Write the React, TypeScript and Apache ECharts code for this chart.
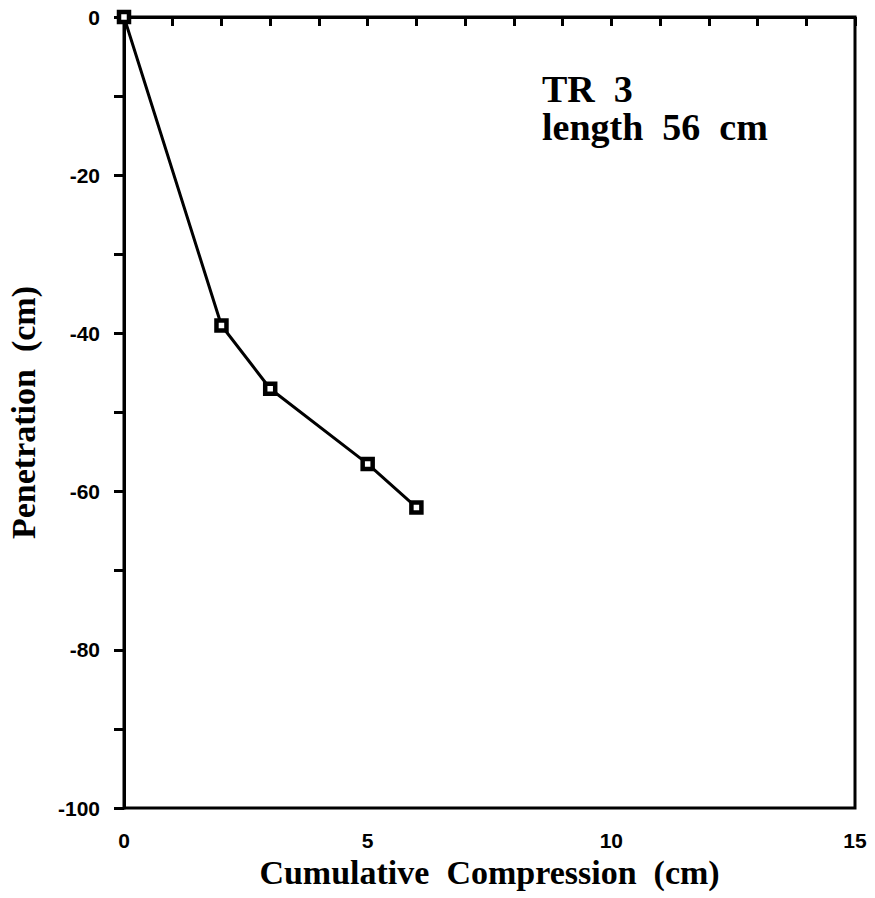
import React, { useEffect, useRef } from "react";
import * as echarts from "echarts";

const compression = [0, 2, 3, 5, 6];
const penetration = [0, -39, -47, -56.5, -62];
const annotationLines = ["TR  3", "length  56  cm"];
const xTitle = "Cumulative  Compression  (cm)";
const yTitle = "Penetration  (cm)";

export default function App() {
  const ref = useRef<HTMLDivElement>(null);
  useEffect(() => {
    if (!ref.current) return;
    const chart = echarts.init(ref.current, null, { renderer: "svg" });
    const titleFont = {
      fontFamily: "Liberation Serif",
      fontWeight: "bold",
      fontSize: 34,
      color: "#000",
    };
    const tickFont = {
      fontFamily: "Liberation Sans",
      fontWeight: "bold",
      fontSize: 21,
      color: "#000",
    };
    chart.setOption({
      animation: false,
      backgroundColor: "#fff",
      grid: {
        left: 124,
        top: 17,
        right: 20,
        bottom: 90,
        show: true,
        borderColor: "#000",
        borderWidth: 3,
        containLabel: false,
        outerBoundsMode: "none",
      },
      xAxis: {
        type: "value",
        min: 0,
        max: 15,
        interval: 1,
        name: xTitle,
        nameLocation: "middle",
        nameGap: 44,
        nameTextStyle: titleFont,
        axisLine: { show: true, lineStyle: { color: "#000", width: 3 } },
        axisTick: { show: true, inside: false, length: 9, lineStyle: { color: "#000", width: 3 } },
        axisLabel: {
          show: true,
          ...tickFont,
          margin: 22,
          formatter: (v: number) => (v % 5 === 0 ? String(v) : ""),
        },
        splitLine: { show: false },
      },
      yAxis: {
        type: "value",
        min: -100,
        max: 0,
        interval: 10,
        name: yTitle,
        nameLocation: "middle",
        nameGap: 84,
        nameRotate: 90,
        nameTextStyle: titleFont,
        axisLine: { show: true, lineStyle: { color: "#000", width: 3 } },
        axisTick: { show: true, inside: false, length: 10, lineStyle: { color: "#000", width: 3 } },
        axisLabel: {
          show: true,
          ...tickFont,
          margin: 24,
          formatter: (v: number) => (v % 20 === 0 ? String(v) : ""),
        },
        splitLine: { show: false },
      },
      series: [
        {
          type: "line",
          data: compression.map((x, i) => [x, penetration[i]]),
          lineStyle: { color: "#000", width: 3 },
          symbol: "rect",
          symbolSize: 10,
          itemStyle: { color: "#fff", borderColor: "#000", borderWidth: 4.5 },
          z: 5,
        },
      ],
      graphic: [
        {
          type: "text",
          left: 542,
          top: 70,
          style: {
            text: annotationLines.join("\n"),
            font: "bold 38px 'Liberation Serif'",
            fill: "#000",
            lineHeight: 38,
          },
        },
      ],
    });
    return () => chart.dispose();
  }, []);
  return <div ref={ref} style={{ width: 875, height: 898, position: "absolute", left: 0, top: 0 }} />;
}
